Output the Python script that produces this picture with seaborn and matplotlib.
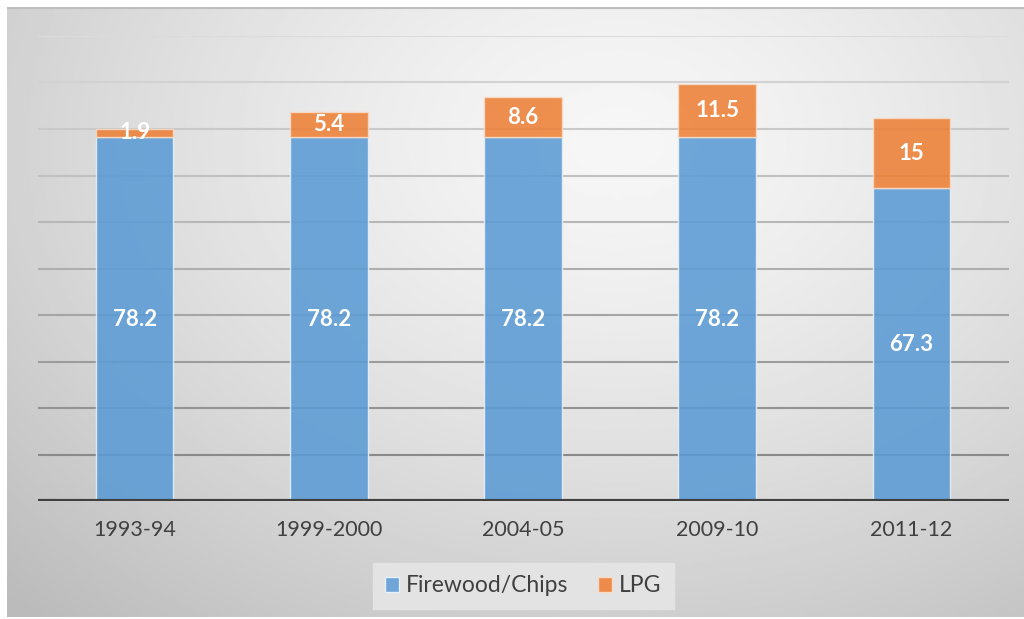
import numpy as np
import pandas as pd
import matplotlib
matplotlib.use('Agg')
import matplotlib.pyplot as plt
import seaborn as sns
from matplotlib.patches import Patch

# Valeurs
years = ['1993-94', '1999-2000', '2004-05', '2009-10', '2011-12']
firewood = [78.2, 78.2, 78.2, 78.2, 67.3]
lpg = [1.9, 5.4, 8.6, 11.5, 15]

df = pd.DataFrame({'year': years, 'firewood': firewood, 'lpg': lpg})

sns.set_theme(style='white')
plt.rcParams['font.family'] = ['Lato', 'DejaVu Sans']

fig = plt.figure(figsize=(10.24, 6.19), dpi=100)

# fond en dégradé radial
bg = fig.add_axes([7 / 1024, 2 / 619, 1017 / 1024, 610 / 619])
gx, gy = np.meshgrid(np.linspace(0, 1, 400), np.linspace(0, 1, 250))
dist = np.sqrt(((gx - 0.6) / 0.75) ** 2 + ((gy - 0.22) / 0.9) ** 2)
shade = 0.965 - 0.19 * np.clip(dist, 0, 1.15) ** 1.4
bg.imshow(shade, cmap='gray', vmin=0, vmax=1, aspect='auto', extent=[0, 1, 1, 0])
bg.set_axis_off()
bg.plot([0, 1], [0.999, 0.999], color='#bdbdbd', lw=1.5, transform=bg.transAxes)

ax = fig.add_axes([37.5 / 1024, 1 - 501 / 619, 971 / 1024, (501 - 36) / 619])
ax.patch.set_alpha(0)

# lignes de grille, plus foncées vers le bas
for i, y in enumerate(range(10, 101, 10)):
    t = i / 9
    c = (0.54 + 0.32 * t,) * 3
    ax.axhline(y, color=c, lw=1.5, zorder=0)

sns.barplot(data=df, x='year', y='firewood', color='#5b9bd5', alpha=0.88,
            width=0.4, edgecolor='#e8f0f8', linewidth=1, saturation=1, ax=ax, zorder=2)
sns.barplot(data=df, x='year', y='lpg', bottom=df['firewood'], color='#ed7d31', alpha=0.85,
            width=0.4, edgecolor='#f8dcc8', linewidth=1, saturation=1, ax=ax, zorder=2)

for cont in ax.containers:
    ax.bar_label(cont, labels=[f'{v:g}' for v in cont.datavalues], label_type='center',
                 color='white', fontsize=16, fontweight='bold')

ax.axhline(0, color='#404040', lw=3, zorder=3)
ax.set_ylim(0, 100)
ax.set_xlim(-0.5, 4.5)
ax.set_yticks([])
ax.set_xlabel('')
ax.set_ylabel('')
ax.tick_params(axis='x', length=0, labelsize=15.5, labelcolor='#404040', pad=14)
sns.despine(ax=ax, left=True, bottom=True)

# légende
handles = [Patch(facecolor='#6fa5d8', edgecolor='#e8f0f8', label='Firewood/Chips'),
           Patch(facecolor='#ee8b4b', edgecolor='#f8dcc8', label='LPG')]
leg = fig.legend(handles=handles, loc='center', bbox_to_anchor=(523 / 1024, 1 - 586 / 619),
                 ncol=2, frameon=True, fontsize=16.5, handlelength=0.6, handleheight=0.6,
                 handletextpad=0.3, columnspacing=1.3, borderpad=0.55, borderaxespad=0,
                 fancybox=False)
leg.get_frame().set_facecolor('#e3e3e3')
leg.get_frame().set_edgecolor('#e3e3e3')
leg.get_frame().set_alpha(1)
for txt in leg.get_texts():
    txt.set_color('#404040')

plt.savefig('out.png', dpi=100)
